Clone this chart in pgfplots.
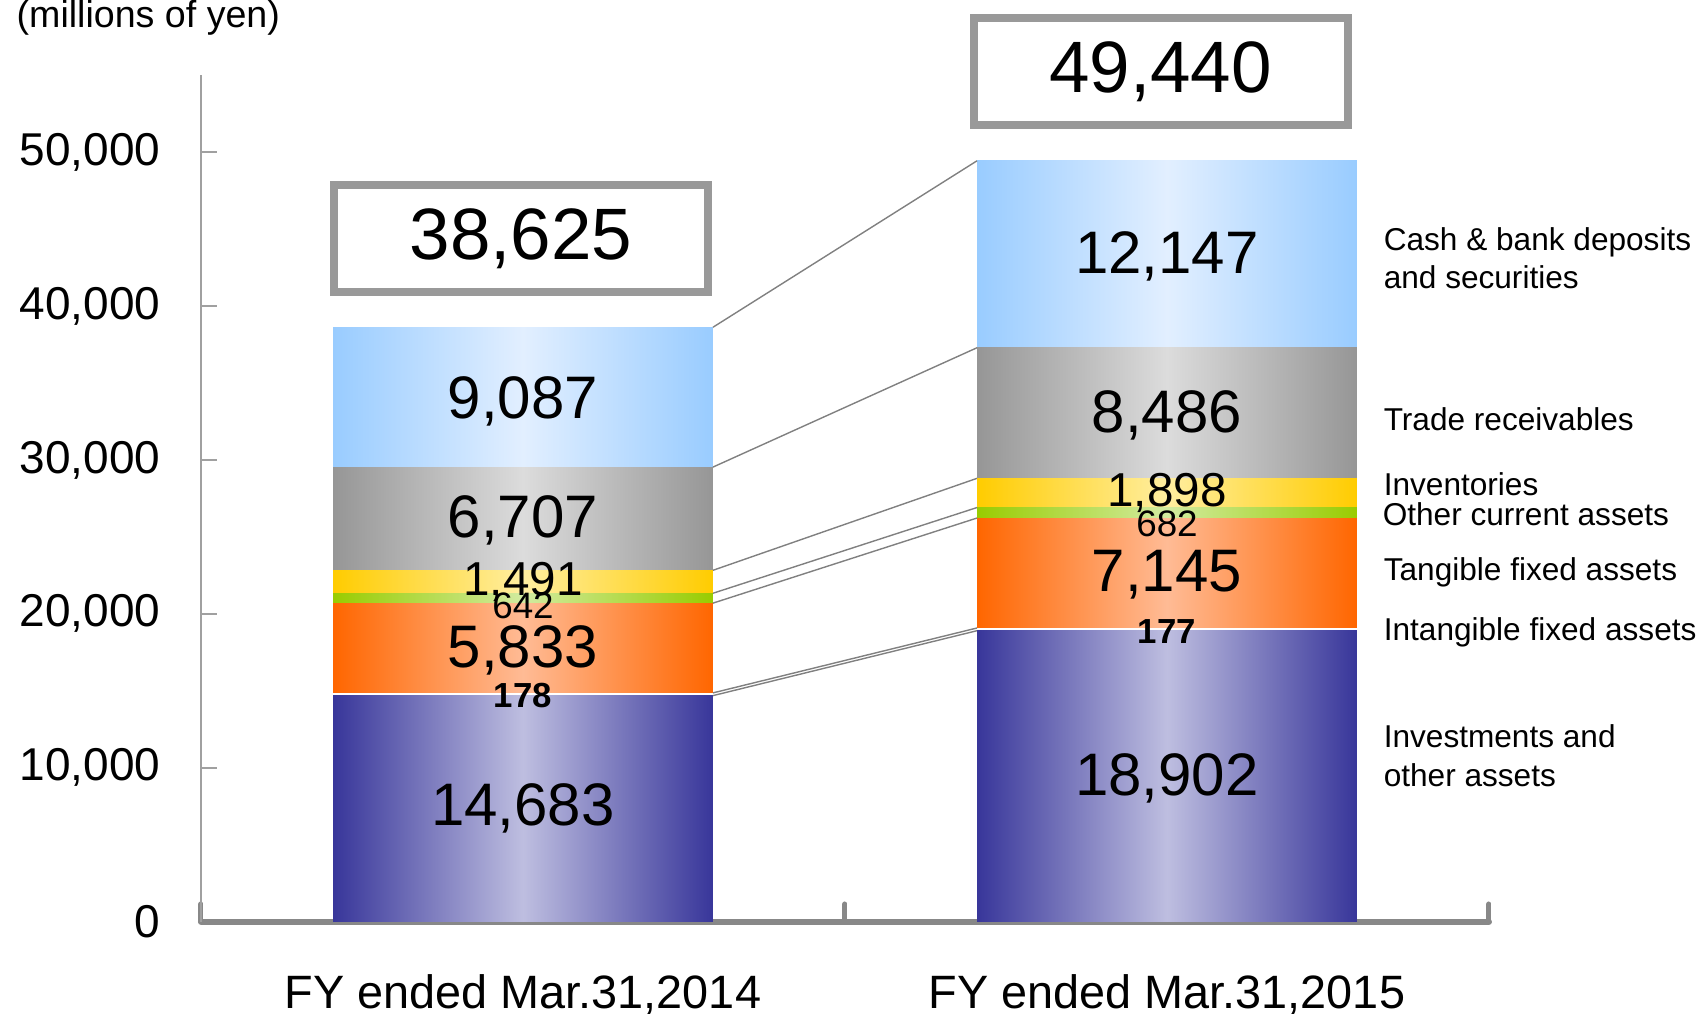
\documentclass[border=0pt]{standalone}
\usepackage{pgfplots}
\pgfplotsset{compat=1.18}
\usepackage{fontspec}
\setmainfont{Liberation Sans}

\definecolor{invE}{HTML}{38369A}
\definecolor{invM}{HTML}{BEBEE0}
\definecolor{tanE}{HTML}{FF6600}
\definecolor{tanM}{HTML}{FFBB95}
\definecolor{othE}{HTML}{99CC00}
\definecolor{othM}{HTML}{D2EBA0}
\definecolor{ivtE}{HTML}{FFCC00}
\definecolor{ivtM}{HTML}{FFEEA0}
\definecolor{trE}{HTML}{969696}
\definecolor{trM}{HTML}{DCDCDC}
\definecolor{caE}{HTML}{99CCFF}
\definecolor{caM}{HTML}{E2EFFF}
\definecolor{axgray}{HTML}{888888}
\definecolor{lgray}{HTML}{A0A0A0}
\definecolor{boxgray}{HTML}{999999}
\definecolor{cgray}{HTML}{808080}

\pgfplotsset{base/.style={width=322pt,height=211.6pt,scale only axis,
  xmin=-0.5,xmax=1.5,ymin=0,ymax=55000},
  sinv/.style={draw=none, left color=invE, right color=invE, middle color=invM},
  sint/.style={draw=none, fill=white},
  stan/.style={draw=none, left color=tanE, right color=tanE, middle color=tanM},
  soth/.style={draw=none, left color=othE, right color=othE, middle color=othM},
  sivt/.style={draw=none, left color=ivtE, right color=ivtE, middle color=ivtM},
  str/.style={draw=none, left color=trE, right color=trE, middle color=trM},
  sca/.style={draw=none, left color=caE, right color=caE, middle color=caM},
  conn/.style={no marks, draw=cgray, line width=0.35pt}}
\tikzset{lab/.style={anchor=base west, inner sep=0, font=\fontsize{7.9}{9.5}\selectfont},
  tot/.style={draw=boxgray, line width=2pt, fill=white, minimum width=93.5pt, minimum height=26.75pt, inner sep=0, font=\fontsize{18.2}{20}\selectfont}}

\newcommand{\bigv}[1]{\fontsize{15}{17}\selectfont #1}

\begin{document}
\begin{tikzpicture}
% FY2014 bar (with the axis frame)
\begin{axis}[base, ybar stacked, bar width=0.59,
  axis x line*=bottom, axis y line*=left,
  x axis line style={line width=1.5pt, draw=axgray, line cap=round},
  y axis line style={line width=0.5pt, draw=lgray},
  tick align=inside,
  xtick={0,1},
  xticklabels={{FY ended Mar.31,2014},{FY ended Mar.31,2015}},
  major x tick style={draw=none},
  minor xtick={-0.5,0.5,1.5},
  minor x tick style={line width=1.25pt, draw=axgray, line cap=round},
  minor tick length=4.4pt,
  ytick={0,10000,20000,30000,40000,50000},
  major tick length=4pt,
  ytick style={line width=0.5pt, draw=lgray},
  scaled y ticks=false,
  /pgf/number format/1000 sep={,},
  /pgf/number format/assume math mode=true,
  yticklabel style={font=\fontsize{11.5}{13}\selectfont, anchor=east, inner sep=0pt, xshift=-10pt},
  xticklabel style={font=\fontsize{11.7}{13}\selectfont, anchor=base, inner sep=0pt, yshift=-21.7pt},
]
\addplot[sinv] coordinates {(0,14683)};
\addplot[sint] coordinates {(0,178)};
\addplot[stan] coordinates {(0,5833)};
\addplot[soth] coordinates {(0,642)};
\addplot[sivt] coordinates {(0,1491)};
\addplot[str]  coordinates {(0,6707)};
\addplot[sca]  coordinates {(0,9087)};
\end{axis}

% FY2015 bar
\begin{axis}[base, ybar stacked, bar width=0.59, hide axis]
\addplot[sinv] coordinates {(1,18902)};
\addplot[sint] coordinates {(1,177)};
\addplot[stan] coordinates {(1,7145)};
\addplot[soth] coordinates {(1,682)};
\addplot[sivt] coordinates {(1,1898)};
\addplot[str]  coordinates {(1,8486)};
\addplot[sca]  coordinates {(1,12147)};
\end{axis}

% connectors and texts
\begin{axis}[base, hide axis, clip=false]
\addplot[conn] coordinates {(0.295,38621) (0.705,49437)};
\addplot[conn] coordinates {(0.295,29534) (0.705,37290)};
\addplot[conn] coordinates {(0.295,22827) (0.705,28804)};
\addplot[conn] coordinates {(0.295,21336) (0.705,26906)};
\addplot[conn] coordinates {(0.295,20694) (0.705,26224)};
\addplot[conn] coordinates {(0.295,14861) (0.705,19079)};
\addplot[conn] coordinates {(0.295,14683) (0.705,18902)};

% value labels
\node[inner sep=0] at (axis cs:0,7341) {\bigv{14,683}};
\node[inner sep=0] at (axis cs:0,14700) {\fontsize{8.7}{10}\selectfont\bfseries 178};
\node[inner sep=0] at (axis cs:0,17600) {\bigv{5,833}};
\node[inner sep=0] at (axis cs:0,20500) {\fontsize{9.2}{10}\selectfont 642};
\node[inner sep=0] at (axis cs:0,22082) {\fontsize{11.9}{13}\selectfont 1,491};
\node[inner sep=0] at (axis cs:0,26100) {\bigv{6,707}};
\node[inner sep=0] at (axis cs:0,33800) {\bigv{9,087}};

\node[inner sep=0] at (axis cs:1,9330) {\bigv{18,902}};
\node[inner sep=0] at (axis cs:1,18870) {\fontsize{8.7}{10}\selectfont\bfseries 177};
\node[inner sep=0] at (axis cs:1,22550) {\bigv{7,145}};
\node[inner sep=0] at (axis cs:1,25850) {\fontsize{9.2}{10}\selectfont 682};
\node[inner sep=0] at (axis cs:1,27855) {\fontsize{11.9}{13}\selectfont 1,898};
\node[inner sep=0] at (axis cs:1,32900) {\bigv{8,486}};
\node[inner sep=0] at (axis cs:1,43200) {\bigv{12,147}};

% totals
\node[tot] at (axis cs:-0.003,44386) {38,625};
\node[tot] at (axis cs:0.99,55220) {49,440};

% category labels
\node[lab] at (axis cs:1.3354,43639) {Cash \& bank deposits};
\node[lab] at (axis cs:1.3354,41170) {and securities};
\node[lab] at (axis cs:1.3354,31943) {Trade receivables};
\node[lab] at (axis cs:1.3354,27719) {Inventories};
\node[lab] at (axis cs:1.3338,25770) {Other current assets};
\node[lab] at (axis cs:1.3354,22196) {Tangible fixed assets};
\node[lab] at (axis cs:1.3354,18298) {Intangible fixed assets};
\node[lab] at (axis cs:1.3354,11330) {Investments and};
\node[lab] at (axis cs:1.3354,8760) {other assets};

\node[anchor=base west, inner sep=0, font=\fontsize{9.4}{11}\selectfont] at (rel axis cs:-0.1437,1.0566) {(millions of yen)};
\end{axis}
\pgfresetboundingbox
\path[use as bounding box] (-50.25pt,-23.35pt) rectangle (375.75pt,230.4pt);
\end{tikzpicture}
\end{document}
